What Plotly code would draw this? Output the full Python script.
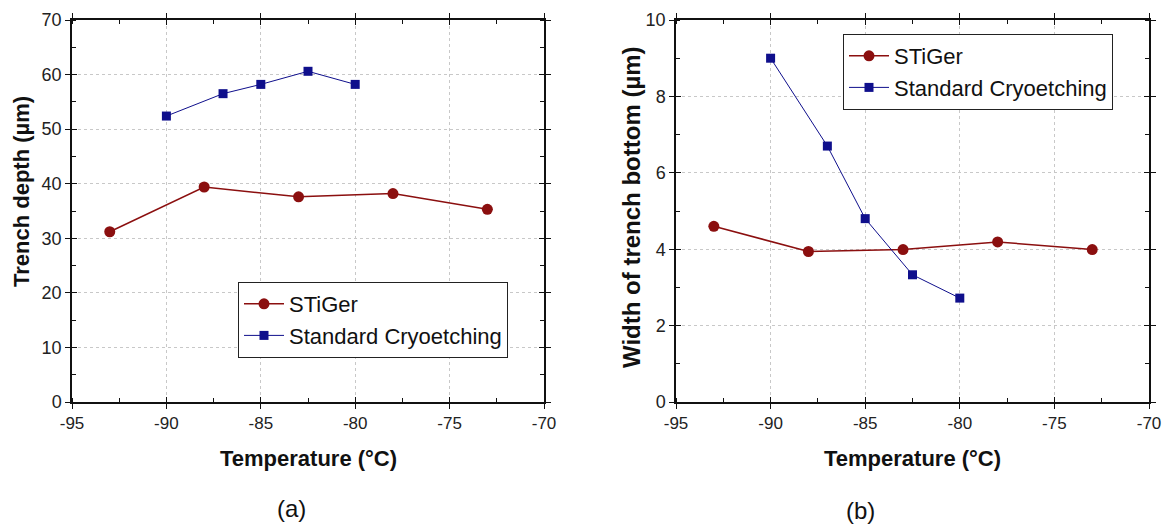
import plotly.graph_objects as go

# Data
stiger_temp = [-93, -88, -83, -78, -73]
stiger_depth = [31.2, 39.4, 37.6, 38.2, 35.3]
stiger_width = [4.6, 3.94, 3.99, 4.19, 3.99]

std_temp = [-90, -87, -85, -82.5, -80]
std_depth = [52.4, 56.5, 58.2, 60.6, 58.2]
std_width = [9.0, 6.7, 4.8, 3.33, 2.72]

x_ticks = [-95, -90, -85, -80, -75, -70]
x_ticktext = ["-95", "-90", "-85", "-80", "-75", "-70"]
red = "#8B0F0F"
blue = "#0F0F8C"
font = "Liberation Sans, Arial, sans-serif"

W, H = 1171, 530

fig = go.Figure()

def add_series(xs, ys, name, color, symbol, size, lw, xa, ya, legend):
    fig.add_trace(go.Scatter(
        x=xs, y=ys, name=name, mode="lines+markers",
        line=dict(color=color, width=lw),
        marker=dict(symbol=symbol, size=size, color=color),
        xaxis=xa, yaxis=ya, legend=legend))

add_series(stiger_temp, stiger_depth, "STiGer", red, "circle", 11, 1.5, "x", "y", "legend")
add_series(std_temp, std_depth, "Standard Cryoetching", blue, "square", 9, 1, "x", "y", "legend")
add_series(stiger_temp, stiger_width, "STiGer", red, "circle", 11, 1.5, "x2", "y2", "legend2")
add_series(std_temp, std_width, "Standard Cryoetching", blue, "square", 9, 1, "x2", "y2", "legend2")

# invisible traces for overlay axes (inside ticks)
for xa, ya in [("x3", "y3"), ("x4", "y4")]:
    fig.add_trace(go.Scatter(x=[None], y=[None], xaxis=xa, yaxis=ya,
                             showlegend=False, hoverinfo="skip"))

xd1 = [72 / W, 544 / W]
xd2 = [676 / W, 1149 / W]
yd = [(H - 402) / H, (H - 20) / H]

grid = dict(showgrid=True, gridcolor="#c8c8c8", griddash="dot", gridwidth=1)
tickfont_x = dict(family=font, size=17, color="#222")
tickfont_y = dict(family=font, size=18, color="#222")

def xaxis(domain, anchor):
    return dict(domain=domain, anchor=anchor, range=[-95, -70], tickvals=x_ticks,
                ticktext=x_ticktext, automargin=False,
                ticks="outside", ticklen=5, tickwidth=1.3, tickcolor="#111",
                showline=True, linecolor="#111", linewidth=1.5, mirror="ticks",
                tickfont=tickfont_x, zeroline=False,
                minor=dict(dtick=2.5, ticks="inside", ticklen=4, tickcolor="#111", showgrid=False),
                **grid)

def yaxis(domain, anchor, rng, dtick, minor):
    return dict(domain=domain, anchor=anchor, range=rng, dtick=dtick, automargin=False,
                ticks="outside", ticklen=5, tickwidth=1.3, tickcolor="#111",
                showline=True, linecolor="#111", linewidth=1.5, mirror="ticks",
                tickfont=tickfont_y, zeroline=False,
                minor=dict(dtick=minor, ticks="inside", ticklen=4, tickcolor="#111", showgrid=False),
                **grid)

def overlay_x(domain, over, anchor):
    return dict(domain=domain, overlaying=over, anchor=anchor, range=[-95, -70],
                tickvals=x_ticks, ticks="inside", ticklen=5, tickwidth=1.3, tickcolor="#111",
                showticklabels=False, showline=False, mirror="ticks", showgrid=False,
                zeroline=False, automargin=False)

def overlay_y(domain, over, anchor, rng, dtick):
    return dict(domain=domain, overlaying=over, anchor=anchor, range=rng, dtick=dtick,
                ticks="inside", ticklen=5, tickwidth=1.3, tickcolor="#111",
                showticklabels=False, showline=False, mirror="ticks", showgrid=False,
                zeroline=False, automargin=False)

def pann(text, x, y, fnt, angle=0):
    return dict(text=text, x=x / W, y=(H - y) / H, xref="paper", yref="paper",
                showarrow=False, font=fnt, textangle=angle,
                xanchor="center", yanchor="middle")

def bold(size):
    return dict(family=font, size=size, color="#111", weight="bold")

legend_common = dict(xanchor="left", yanchor="top", bordercolor="#222", borderwidth=1,
                     bgcolor="white", font=dict(family=font, size=22, color="#111"),
                     tracegroupgap=0, itemwidth=40)

fig.update_layout(
    width=W, height=H,
    margin=dict(l=0, r=0, t=0, b=0, autoexpand=False),
    paper_bgcolor="white", plot_bgcolor="white",
    xaxis=xaxis(xd1, "y"),
    yaxis=yaxis(yd, "x", [0, 70], 10, 5),
    xaxis2=xaxis(xd2, "y2"),
    yaxis2=yaxis(yd, "x2", [0, 10], 2, 1),
    xaxis3=overlay_x(xd1, "x", "y3"),
    yaxis3=overlay_y(yd, "y", "x3", [0, 70], 10),
    xaxis4=overlay_x(xd2, "x2", "y4"),
    yaxis4=overlay_y(yd, "y2", "x4", [0, 10], 2),
    legend=dict(x=238 / W, y=(H - 282) / H, **legend_common),
    legend2=dict(x=843 / W, y=(H - 34) / H, **legend_common),
    annotations=[
        pann("Trench depth (µm)", 21, 192, bold(22), -90),
        pann("Width of trench bottom (µm)", 631, 207, bold(24), -90),
        pann("Temperature (°C)", 308, 458, bold(22)),
        pann("Temperature (°C)", 912, 458, bold(22)),
        pann("(a)", 291, 508, dict(family=font, size=24, color="#111")),
        pann("(b)", 860, 510, dict(family=font, size=24, color="#111")),
    ],
)

fig.write_html("out.html", post_script="document.body.style.margin='0';",
               config={"displayModeBar": False})
